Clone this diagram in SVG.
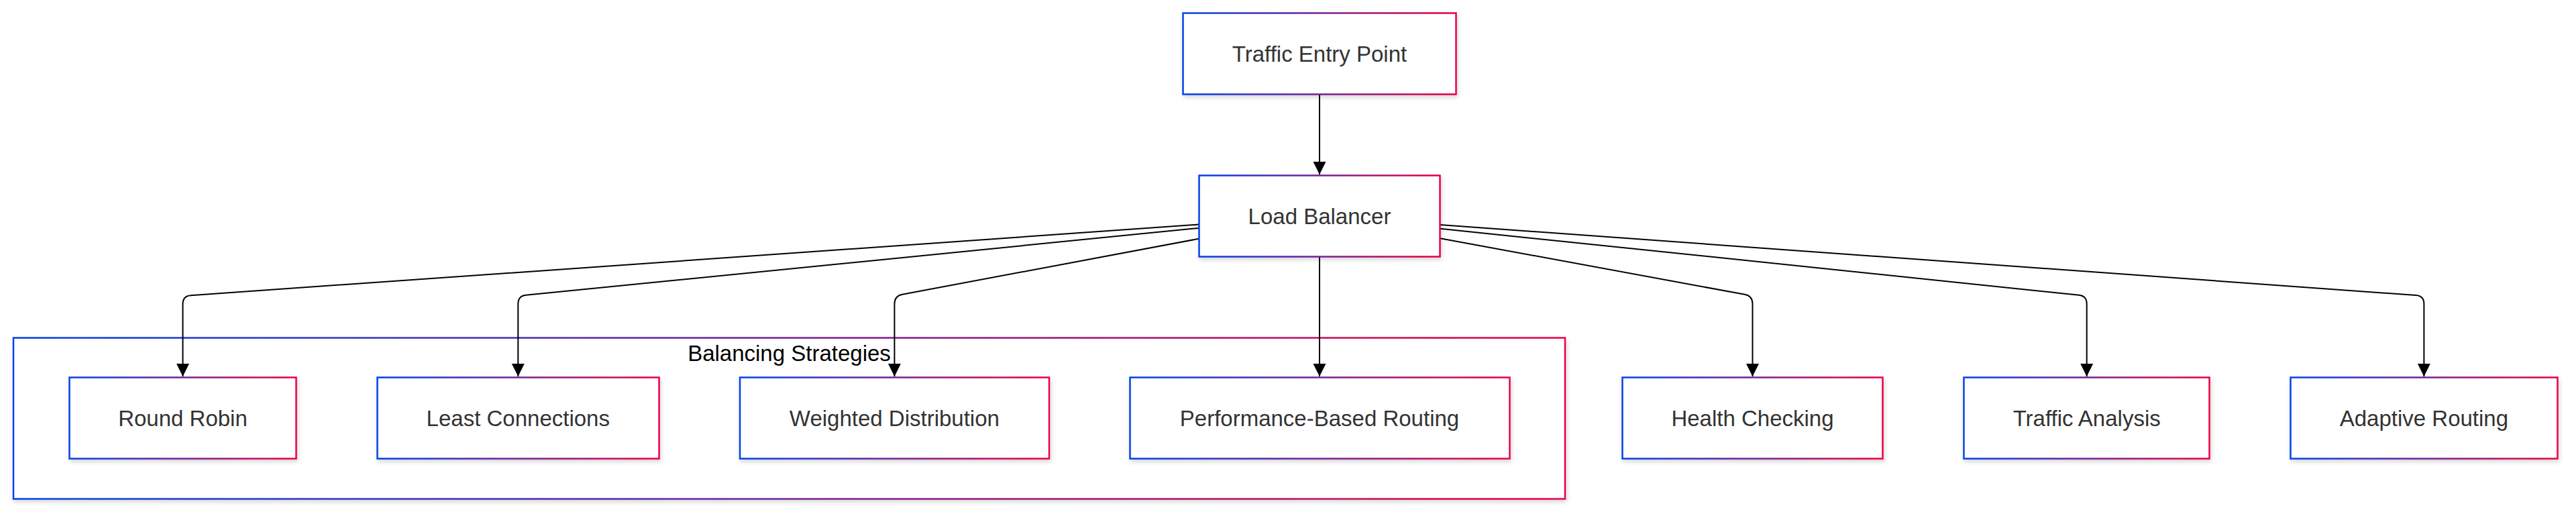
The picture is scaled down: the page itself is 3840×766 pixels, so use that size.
<svg xmlns="http://www.w3.org/2000/svg" width="3840" height="766" viewBox="0 0 3840 766">
<defs>
<linearGradient id="grad" x1="0" y1="0" x2="1" y2="0">
<stop offset="0" stop-color="#0042eb"/>
<stop offset="1" stop-color="#eb0042"/>
</linearGradient>
<filter id="shadow" x="-10%" y="-20%" width="120%" height="150%">
<feDropShadow dx="1.5" dy="3.5" stdDeviation="3" flood-color="#000" flood-opacity="0.16"/>
</filter>
<marker id="arrow" viewBox="0 0 10 10" refX="10" refY="5" markerWidth="19" markerHeight="20" markerUnits="userSpaceOnUse" orient="auto">
<path d="M0,0 L10,5 L0,10 z" fill="#000"/>
</marker>
<style>
.box{fill:#fff;stroke:url(#grad);stroke-width:2.5;filter:url(#shadow);}
.lbl{font-family:"Liberation Sans",Arial,sans-serif;font-size:33px;fill:#333;text-anchor:middle;}
.cl{font-family:"Liberation Sans",Arial,sans-serif;font-size:33px;fill:#000;text-anchor:middle;}
.edge{fill:none;stroke:#000;stroke-width:2;marker-end:url(#arrow);}
</style>
</defs>
<rect width="3840" height="766" fill="#fff"/>
<g id="cluster-balancing-strategies">
<rect class="box" x="20" y="503.5" width="2313" height="240"/>
<text class="cl" x="1176.5" y="538">Balancing Strategies</text>
</g>
<g id="connectors">
<path class="edge" d="M1967,141 L1967,260"/>
<path class="edge" d="M1787,334.6 L284.5,440.2 Q272.5,441 272.5,453 L272.5,561"/>
<path class="edge" d="M1787,339.9 L784.2,439.8 Q772.3,441 772.3,453 L772.3,561"/>
<path class="edge" d="M1787,355.8 L1345.2,438.8 Q1333.4,441 1333.4,453 L1333.4,561"/>
<path class="edge" d="M1967,383 L1967,561"/>
<path class="edge" d="M2147,355.2 L2600.7,438.8 Q2612.5,441 2612.5,453 L2612.5,561"/>
<path class="edge" d="M2147,340.7 L3098.8,439.8 Q3110.7,441 3110.7,453 L3110.7,561"/>
<path class="edge" d="M2147,335 L3601.4,440.1 Q3613.4,441 3613.4,453 L3613.4,561"/>
</g>
<g id="node-traffic-entry-point">
<rect class="box" x="1763.5" y="19.5" width="407" height="121"/>
<text class="lbl" x="1967" y="91.5">Traffic Entry Point</text>
</g>
<g id="node-load-balancer">
<rect class="box" x="1787.5" y="261.5" width="359" height="121"/>
<text class="lbl" x="1967" y="333.5">Load Balancer</text>
</g>
<g id="node-round-robin">
<rect class="box" x="103.5" y="562.5" width="338" height="121"/>
<text class="lbl" x="272.5" y="634.5">Round Robin</text>
</g>
<g id="node-least-connections">
<rect class="box" x="562.5" y="562.5" width="420" height="121"/>
<text class="lbl" x="772.3" y="634.5">Least Connections</text>
</g>
<g id="node-weighted-distribution">
<rect class="box" x="1103" y="562.5" width="461" height="121"/>
<text class="lbl" x="1333.4" y="634.5">Weighted Distribution</text>
</g>
<g id="node-performance-based-routing">
<rect class="box" x="1684.5" y="562.5" width="566" height="121"/>
<text class="lbl" x="1967" y="634.5">Performance-Based Routing</text>
</g>
<g id="node-health-checking">
<rect class="box" x="2418.5" y="562.5" width="388" height="121"/>
<text class="lbl" x="2612.5" y="634.5">Health Checking</text>
</g>
<g id="node-traffic-analysis">
<rect class="box" x="2927.5" y="562.5" width="366" height="121"/>
<text class="lbl" x="3110.7" y="634.5">Traffic Analysis</text>
</g>
<g id="node-adaptive-routing">
<rect class="box" x="3414.5" y="562.5" width="398" height="121"/>
<text class="lbl" x="3613.4" y="634.5">Adaptive Routing</text>
</g>
</svg>
